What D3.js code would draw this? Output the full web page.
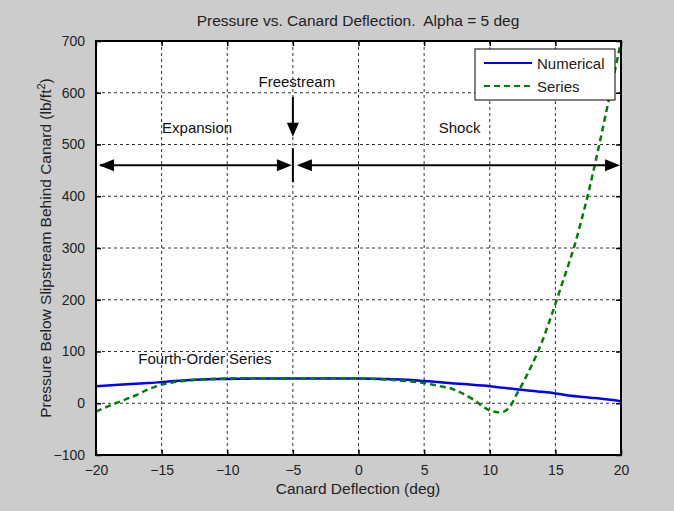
<!DOCTYPE html>
<html><head><meta charset="utf-8">
<script src="https://cdn.jsdelivr.net/npm/d3@7"></script>
<style>body{margin:0;background:#cccccc;} svg{display:block;font-family:"Liberation Sans",Arial,sans-serif;}</style>
</head><body>
<script>
const xTicks = [-20,-15,-10,-5,0,5,10,15,20];
const yTicks = [-100,0,100,200,300,400,500,600,700];

const numX = [-20,-18,-16,-15,-14,-12,-10,-8,-6,-4,-2,0,2,4,5,6,8,10,12,14,15,16,18,20];
const numY = [33,36,39,41,43,46,47,48,48,48,48,48,47,45,43,41,37,33,27,22,19,15,10,4];

const serX = [-20,-19,-18,-17,-16,-15,-14,-13,-12,-11,-10,-5,0,2,3,4,5,6,7,7.5,8,9,9.5,10,10.5,11,11.5,12,12.5,13,13.5,14,14.5,15,15.5,16,16.5,17,17.5,18,18.5,19,19.5,20];
const serY = [-16,-5,5,15,27,36,41,44,46,47,48,48,48,46,44,42,39,34,29,24,18,3,-7,-14,-17,-17,-8,15,38,63,90,120,155,192,230,268,308,355,405,460,518,578,638,700];

const W=674,H=511, L=96,R=621,T=41,B=455;
const FONT="Liberation Sans, Arial, sans-serif";
const svg=d3.select("body").append("svg").attr("width",W).attr("height",H);
svg.append("rect").attr("width",W).attr("height",H).attr("fill","#cccccc");
const x=d3.scaleLinear().domain([-20,20]).range([L,R]);
const y=d3.scaleLinear().domain([-100,700]).range([B,T]);
svg.append("rect").attr("x",L).attr("y",T).attr("width",R-L).attr("height",B-T).attr("fill","#fff");

// grid
const g=svg.append("g");
xTicks.slice(1,-1).forEach(v=>g.append("line").attr("x1",x(v)).attr("x2",x(v)).attr("y1",T).attr("y2",B)
  .attr("stroke","#333").attr("stroke-width",1).attr("stroke-dasharray","3,3"));
yTicks.slice(1,-1).forEach(v=>g.append("line").attr("x1",L).attr("x2",R).attr("y1",y(v)).attr("y2",y(v))
  .attr("stroke","#333").attr("stroke-width",1).attr("stroke-dasharray","3,3"));

// axes
const ax=svg.append("g").attr("transform",`translate(0,${B})`).call(d3.axisBottom(x).tickValues(xTicks).tickSize(-5).tickPadding(10).tickFormat(d3.format("d")));
const axt=svg.append("g").attr("transform",`translate(0,${T})`).call(d3.axisTop(x).tickValues(xTicks).tickSize(-5).tickFormat(""));
const ay=svg.append("g").attr("transform",`translate(${L},0)`).call(d3.axisLeft(y).tickValues(yTicks).tickSize(-5).tickPadding(11));
const ayr=svg.append("g").attr("transform",`translate(${R},0)`).call(d3.axisRight(y).tickValues(yTicks).tickSize(-5).tickFormat(""));
[ax,axt,ay,ayr].forEach(a=>{a.select(".domain").remove();a.selectAll("line").attr("stroke","#000").attr("stroke-width",1.5);
  a.selectAll("text").attr("font-size",14).attr("fill","#222").attr("font-family",FONT);});

// curves
const line=d3.line().x(d=>x(d[0])).y(d=>y(d[1])).curve(d3.curveCatmullRom.alpha(0.5));
svg.append("clipPath").attr("id","c").append("rect").attr("x",L).attr("y",T-2).attr("width",R-L+1).attr("height",B-T+4);
svg.append("path").datum(numX.map((v,i)=>[v,numY[i]])).attr("d",line).attr("fill","none").attr("stroke","#0000ff").attr("stroke-width",2.5).attr("clip-path","url(#c)");
svg.append("path").datum(serX.map((v,i)=>[v,serY[i]])).attr("d",line).attr("fill","none").attr("stroke","#008000").attr("stroke-width",2.5).attr("stroke-dasharray","6,4").attr("clip-path","url(#c)");

// box
svg.append("rect").attr("x",L).attr("y",T).attr("width",R-L).attr("height",B-T).attr("fill","none").attr("stroke","#000").attr("stroke-width",2);

// annotations
function arrowHead(px,py,dir){
  let pts;
  if(dir==="left") pts=[[px,py],[px+15,py-6],[px+15,py+6]];
  if(dir==="right") pts=[[px,py],[px-15,py-6],[px-15,py+6]];
  if(dir==="down") pts=[[px,py],[px-6,py-14],[px+6,py-14]];
  svg.append("polygon").attr("points",pts.map(p=>p.join(",")).join(" ")).attr("fill","#000");
}
const ay0=y(460);
svg.append("line").attr("x1",x(-20)+4).attr("x2",x(-5)-4).attr("y1",ay0).attr("y2",ay0).attr("stroke","#000").attr("stroke-width",2);
arrowHead(x(-20)+3,ay0,"left"); arrowHead(x(-5)-1,ay0,"right");
svg.append("line").attr("x1",x(-5)+8).attr("x2",x(20)-4).attr("y1",ay0).attr("y2",ay0).attr("stroke","#000").attr("stroke-width",2);
arrowHead(x(-5)+4,ay0,"left"); arrowHead(x(20)-1,ay0,"right");
svg.append("line").attr("x1",x(-5)).attr("x2",x(-5)).attr("y1",y(493)).attr("y2",y(427)).attr("stroke","#000").attr("stroke-width",2);
svg.append("line").attr("x1",x(-5)).attr("x2",x(-5)).attr("y1",y(592)).attr("y2",y(530)).attr("stroke","#000").attr("stroke-width",2);
arrowHead(x(-5),y(515),"down");

const txt=(t,xx,yy,fs)=>svg.append("text").attr("x",xx).attr("y",yy).attr("font-size",fs||15).attr("fill","#111").attr("text-anchor","middle").attr("font-family",FONT).text(t);
txt("Expansion",x(-12.3),y(522));
txt("Freestream",x(-4.7),y(611));
txt("Shock",x(7.7),y(522));
txt("Fourth-Order Series",x(-11.7),y(76));

// title & labels
txt("Pressure vs. Canard Deflection.  Alpha = 5 deg",358,26,15.5).attr("fill","#222").attr("xml:space","preserve").style("white-space","pre");
txt("Canard Deflection (deg)",358,494,15.5).attr("fill","#222");
const yl=svg.append("text").attr("transform","translate(51,248) rotate(-90)").attr("text-anchor","middle").attr("font-size",15.5).attr("fill","#222").attr("font-family",FONT);
yl.append("tspan").text("Pressure Below Slipstream Behind Canard (lb/ft");
yl.append("tspan").attr("font-size",11).attr("dy",-6).text("2");
yl.append("tspan").attr("dy",6).text(")");

// legend
const lg=svg.append("g");
lg.append("rect").attr("x",475).attr("y",49).attr("width",140).attr("height",51).attr("fill","#fff").attr("stroke","#000").attr("stroke-width",1);
lg.append("line").attr("x1",484).attr("x2",532).attr("y1",63).attr("y2",63).attr("stroke","#0000ff").attr("stroke-width",2);
lg.append("line").attr("x1",484).attr("x2",532).attr("y1",86).attr("y2",86).attr("stroke","#008000").attr("stroke-width",2).attr("stroke-dasharray","6,4");
lg.append("text").attr("x",537).attr("y",69).attr("font-size",15).attr("fill","#222").attr("font-family",FONT).text("Numerical");
lg.append("text").attr("x",537).attr("y",92).attr("font-size",15).attr("fill","#222").attr("font-family",FONT).text("Series");
</script>
</body></html>
